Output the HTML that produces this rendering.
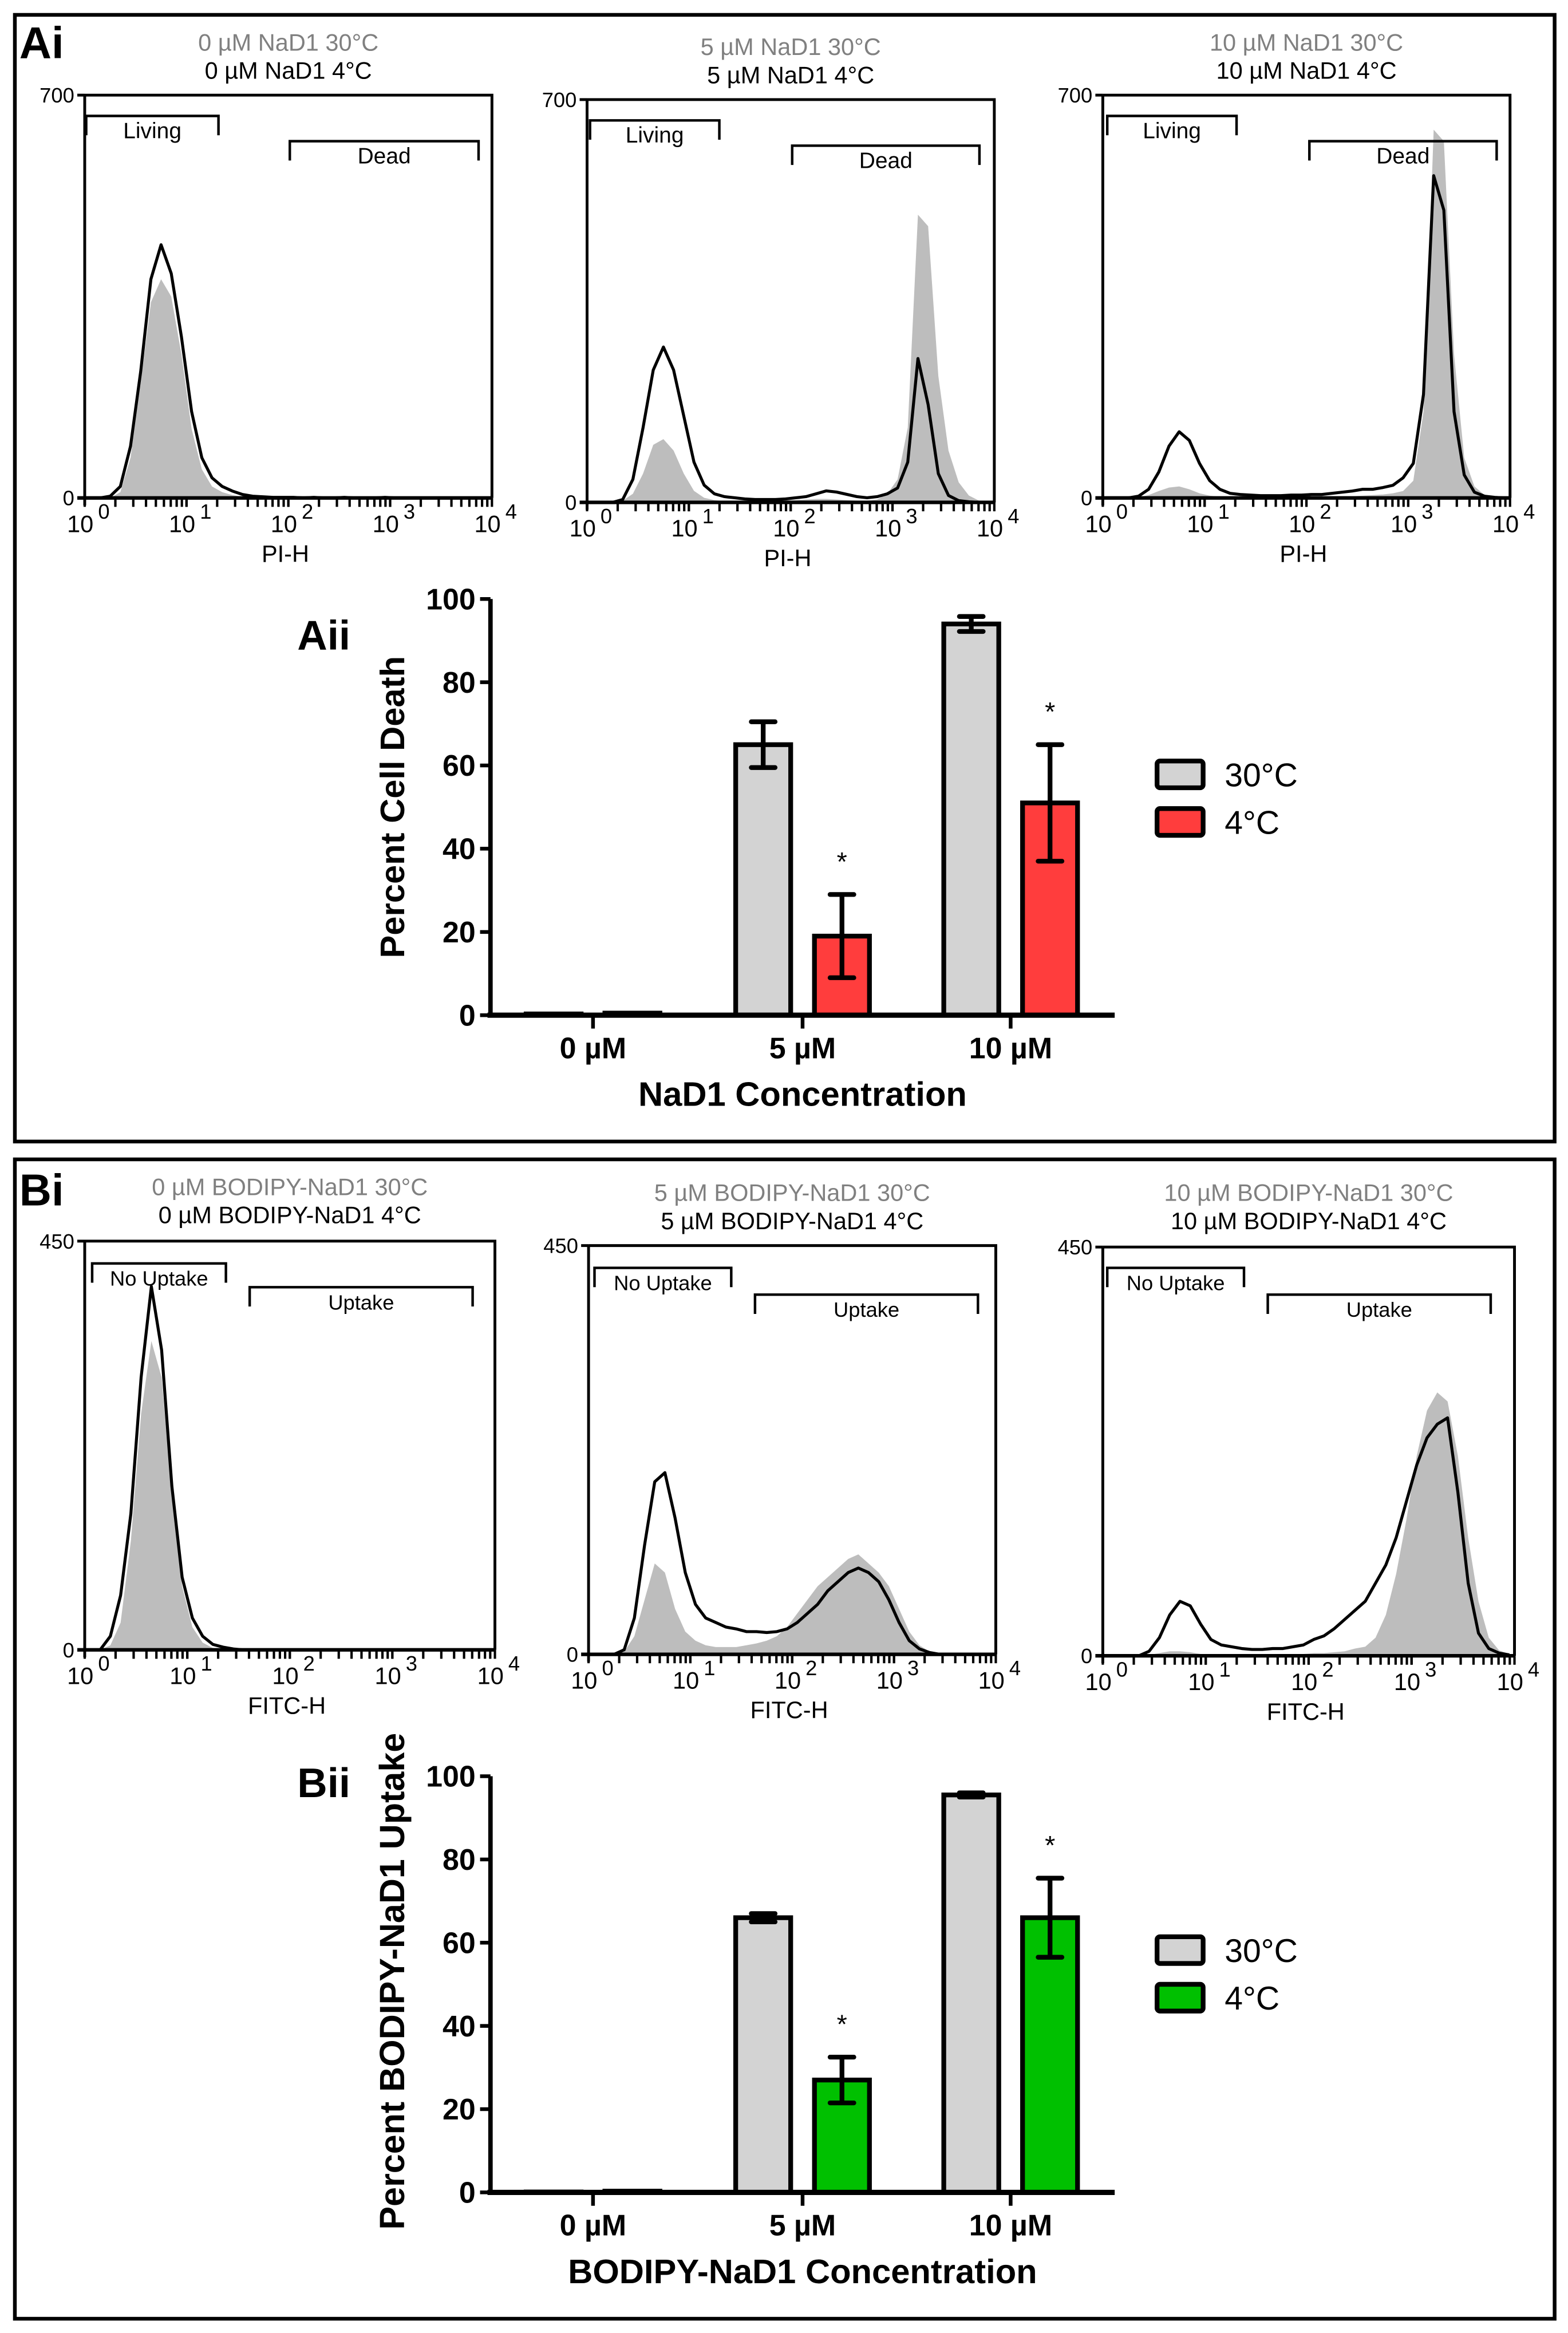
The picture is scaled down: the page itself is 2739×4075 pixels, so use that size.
<!DOCTYPE html>
<html><head><meta charset="utf-8"><style>
html,body{margin:0;padding:0;background:#fff}
svg{display:block}
text{font-family:"Liberation Sans",Arial,sans-serif}
</style></head><body>
<svg id="fig" xmlns="http://www.w3.org/2000/svg" width="2739" height="4075" viewBox="0 0 1055 1569.6">
<rect x="0" y="0" width="1055" height="1570" fill="#fff"/>
<rect x="10" y="10" width="1036" height="758" fill="none" stroke="#000" stroke-width="2.5"/>
<rect x="10" y="780" width="1036" height="780" fill="none" stroke="#000" stroke-width="2.5"/>
<text x="13" y="39" font-size="30" font-weight="bold">Ai</text>
<text x="13" y="811" font-size="30" font-weight="bold">Bi</text>
<text x="200" y="437" font-size="28" font-weight="bold">Aii</text>
<text x="200" y="1209" font-size="28" font-weight="bold">Bii</text>
<g id="root"></g>
</svg>
<script>
// ---------- histogram data (counts per 0.1-decade bin, 10^0..10^4) ----------
const histA1Black=[0,0,3,20,90,220,380,440,390,280,150,70,35,20,12,6,3,2,1,1,1,0,1,0,0,1,0,0,0,1,0,0,0,0,0,0,0,0,0,0];
const histA1Gray=[0,0,0,10,70,200,340,380,350,250,120,50,20,10,5,2,1,0,0,0,0,0,0,0,0,0,0,0,0,0,0,0,0,0,0,0,0,0,0,0];
const histA2Black=[0,0,0,5,40,130,230,270,230,150,70,30,15,10,8,6,5,5,5,6,8,10,15,20,18,14,10,8,10,15,25,70,250,170,50,12,3,1,0,0];
const histA2Gray=[0,0,0,3,15,50,100,110,90,50,20,8,4,2,2,2,2,2,2,3,4,5,6,6,5,4,3,3,5,15,40,130,500,480,220,90,35,12,3,0];
const histA3Black=[0,0,0,3,15,45,90,115,100,60,30,15,8,6,5,4,4,4,5,5,6,6,8,10,12,15,15,18,22,35,60,180,560,500,150,40,10,3,1,0];
const histA3Gray=[0,0,0,1,5,12,18,20,15,8,4,2,1,1,1,1,1,1,1,1,2,2,2,3,3,4,5,6,8,12,30,150,640,620,250,70,20,5,1,0];
const histB1Black=[0,0,15,60,150,300,400,330,180,80,35,15,6,3,1,0,0,0,0,0,0,0,0,0,0,0,0,0,0,0,0,0,0,0,0,0,0,0,0,0];
const histB1Gray=[0,0,5,30,120,260,340,300,170,70,25,8,2,0,0,0,0,0,0,0,0,0,0,0,0,0,0,0,0,0,0,0,0,0,0,0,0,0,0,0];
const histB2Black=[0,0,0,5,40,120,190,200,150,90,55,40,35,30,28,25,25,24,25,28,35,45,55,70,80,90,95,90,80,60,35,15,6,2,0,0,0,0,0,0];
const histB2Gray=[0,0,0,3,20,60,100,90,50,25,15,10,8,8,8,10,12,15,20,30,45,60,75,85,95,105,110,100,90,75,50,25,10,3,0,0,0,0,0,0];
const histB3Black=[0,0,0,0,5,20,45,60,55,35,18,12,10,8,7,7,8,8,10,12,18,22,30,40,50,60,80,100,130,170,210,240,255,262,180,80,25,8,3,1];
const histB3Gray=[0,0,0,0,1,3,5,5,4,2,1,1,1,1,1,1,1,1,2,2,3,3,4,5,8,10,20,45,90,150,220,270,290,280,220,130,60,20,6,2];
// ---------- bar chart data ----------
const categories=["0 µM","5 µM","10 µM"];
const deathWarm=[0.3,65,94];
const deathWarmErr=[0,5.5,1.8];
const deathCold=[0.5,19,51];
const deathColdErr=[0,10,14];
const uptakeWarm=[0.1,66,95.5];
const uptakeWarmErr=[0,1,0.5];
const uptakeCold=[0.3,27,66];
const uptakeColdErr=[0,5.5,9.5];
const yTicks=[0,20,40,60,80,100];

const NS="http://www.w3.org/2000/svg";
const root=document.getElementById('root');
function mk(tag,attrs,parent,txt){const e=document.createElementNS(NS,tag);for(const k in attrs)e.setAttribute(k,attrs[k]);if(txt!==undefined)e.textContent=txt;(parent||root).appendChild(e);return e;}

function histogram(cfg){
  const g=mk('g',{});
  
  
  const {x0,x1,top,base,ymax}=cfg;
  const sx=v=>x0+(v/4)*(x1-x0);
  const sy=c=>base-(c/ymax)*(base-top);
  let d='M'+sx(0)+','+base;
  cfg.gray.forEach((c,i)=>{d+=' L'+sx(i*0.1+0.05)+','+sy(c);});
  d+=' L'+sx(4)+','+base+' Z';
  const ga=mk('path',{d:d,fill:'#bdbdbd',stroke:'none'},g);
  
  
  let l='';
  cfg.black.forEach((c,i)=>{l+=(i?' L':'M')+sx(i*0.1+0.05)+','+sy(c);});
  const bl=mk('path',{d:l,fill:'none',stroke:'#000','stroke-width':2,'stroke-linejoin':'round'},g);
  
  
  mk('path',{d:`M${x0},${top} H${x1} V${base} M${x0},${top} V${base+5}`,fill:'none',stroke:'#000','stroke-width':1.9},g);
  mk('line',{x1:x0-5,y1:top,x2:x0,y2:top,stroke:'#000','stroke-width':1.9},g);
  mk('line',{x1:x0-5,y1:base,x2:x1,y2:base,stroke:'#000','stroke-width':2.4},g);
  for(let dec=0;dec<4;dec++){for(let k=1;k<=10;k++){const v=dec+Math.log10(k);mk('line',{x1:sx(v),y1:base,x2:sx(v),y2:base+6,stroke:'#000','stroke-width':1.6},g);}}
  for(let dec=0;dec<=4;dec++){
    mk('text',{x:sx(dec)-3,y:base+23,'font-size':16,'text-anchor':'middle'},g,'10');
    mk('text',{x:sx(dec)+9,y:base+14,'font-size':14},g,String(dec));
  }
  const yl=mk('text',{x:x0-7,y:top+5,'font-size':14,'text-anchor':'end'},g,String(ymax));
  
  mk('text',{x:x0-7,y:base+5,'font-size':14,'text-anchor':'end'},g,'0');
  const xt=mk('text',{x:(x0+x1)/2-2,y:base+43,'font-size':16,'text-anchor':'middle'},g,cfg.xlabel);
  
  const cx=(x0+x1)/2;
  const t1=mk('text',{x:cx,y:cfg.t1y,'font-size':16,'text-anchor':'middle',fill:'#808080'},g,cfg.t1);
  
  const t2=mk('text',{x:cx,y:cfg.t1y+19,'font-size':16,'text-anchor':'middle'},g,cfg.t2);
  
  cfg.gates.forEach(gt=>{
    const [a,b,y,label]=gt;
    const p=mk('path',{d:`M${a},${y+13} V${y} H${b} V${y+13}`,fill:'none',stroke:'#000','stroke-width':1.7},g);
    
    
    mk('text',{x:(a+b)/2,y:y+15,'font-size':cfg.gfs,'text-anchor':'middle'},g,label);
  });
}
histogram({name:'histogram-a-0um',x0:57,x1:331,top:64,base:335,ymax:700,gray:histA1Gray,black:histA1Black,xlabel:'PI-H',t1:'0 µM NaD1 30°C',t2:'0 µM NaD1 4°C',t1y:34,gfs:15,gates:[[58,147,78,'Living'],[195,322,95,'Dead']]});
histogram({name:'histogram-a-5um',x0:395,x1:669,top:67,base:338,ymax:700,gray:histA2Gray,black:histA2Black,xlabel:'PI-H',t1:'5 µM NaD1 30°C',t2:'5 µM NaD1 4°C',t1y:37,gfs:15,gates:[[397,484,81,'Living'],[533,659,98,'Dead']]});
histogram({name:'histogram-a-10um',x0:742,x1:1016,top:64,base:335,ymax:700,gray:histA3Gray,black:histA3Black,xlabel:'PI-H',t1:'10 µM NaD1 30°C',t2:'10 µM NaD1 4°C',t1y:34,gfs:15,gates:[[745,832,78,'Living'],[881,1007,95,'Dead']]});
histogram({name:'histogram-b-0um',x0:57,x1:333,top:835,base:1110,ymax:450,gray:histB1Gray,black:histB1Black,xlabel:'FITC-H',t1:'0 µM BODIPY-NaD1 30°C',t2:'0 µM BODIPY-NaD1 4°C',t1y:804,gfs:14,gates:[[62,152,850,'No Uptake'],[168,318,866,'Uptake']]});
histogram({name:'histogram-b-5um',x0:396,x1:670,top:838,base:1113,ymax:450,gray:histB2Gray,black:histB2Black,xlabel:'FITC-H',t1:'5 µM BODIPY-NaD1 30°C',t2:'5 µM BODIPY-NaD1 4°C',t1y:808,gfs:14,gates:[[400,492,853,'No Uptake'],[508,658,871,'Uptake']]});
histogram({name:'histogram-b-10um',x0:742,x1:1019,top:839,base:1114,ymax:450,gray:histB3Gray,black:histB3Black,xlabel:'FITC-H',t1:'10 µM BODIPY-NaD1 30°C',t2:'10 µM BODIPY-NaD1 4°C',t1y:808,gfs:14,gates:[[745,837,853,'No Uptake'],[853,1003,871,'Uptake']]});

function barChart(cfg){
  const g=mk('g',{});
  
  
  const ax=330, xEnd=750, y0=cfg.y0, y100=cfg.y0-280;
  const sy=v=>y0-(v/100)*(y0-y100);
  const centers=[399,540,680];
  const bw=37, off=26.5;
  function bar(cx,v,e,fill,nm,star){
    const r=mk('rect',{x:cx-bw/2,y:sy(v),width:bw,height:y0-sy(v),fill:fill,stroke:'#000','stroke-width':3.2},g);
    
    
    if(e>0){
      const eb=mk('path',{d:`M${cx},${sy(v+e)} V${sy(v-e)} M${cx-8},${sy(v+e)} H${cx+8} M${cx-8},${sy(v-e)} H${cx+8}`,stroke:'#000','stroke-width':3.2,fill:'none','stroke-linecap':'round'},g);
      
      
    }
    if(star){const s=mk('text',{x:cx,y:sy(v+e)-16,'font-size':18,'text-anchor':'middle'},g,'*');}
  }
  categories.forEach((c,i)=>{
    bar(centers[i]-off,cfg.warm[i],cfg.warmErr[i],'#d3d3d3','bar-30c-'+i,false);
    bar(centers[i]+off,cfg.cold[i],cfg.coldErr[i],cfg.color,'bar-4c-'+i,i>0);
    mk('line',{x1:centers[i],y1:y0,x2:centers[i],y2:y0+9,stroke:'#000','stroke-width':2.5},g);
    const t=mk('text',{x:centers[i],y:y0+29,'font-size':20,'font-weight':'bold','text-anchor':'middle'},g,c);
    
  });
  mk('line',{x1:ax,y1:y100,x2:ax,y2:y0,stroke:'#000','stroke-width':3},g);
  mk('line',{x1:ax-2,y1:y0,x2:xEnd,y2:y0,stroke:'#000','stroke-width':3.5},g);
  yTicks.forEach(v=>{
    mk('line',{x1:ax-7,y1:sy(v),x2:ax,y2:sy(v),stroke:'#000','stroke-width':2.5},g);
    const t=mk('text',{x:ax-10,y:sy(v)+7,'font-size':20,'font-weight':'bold','text-anchor':'end'},g,String(v));
    
  });
  const yt=mk('text',{x:0,y:0,'font-size':cfg.yfs,'font-weight':'bold','text-anchor':'middle',transform:`translate(272,${cfg.ymid}) rotate(-90)`},g,cfg.ylabel);
  
  const xt=mk('text',{x:540,y:y0+61,'font-size':23,'font-weight':'bold','text-anchor':'middle'},g,cfg.xlabel);
  
  const ly=cfg.legY;
  const l1=mk('rect',{x:778.5,y:ly,width:31,height:18,rx:2,fill:'#d3d3d3',stroke:'#000','stroke-width':3.2},g);
  
  mk('text',{x:824,y:ly+17,'font-size':22},g,'30°C');
  const l2=mk('rect',{x:778.5,y:ly+32,width:31,height:18,rx:2,fill:cfg.color,stroke:'#000','stroke-width':3.2},g);
  
  mk('text',{x:824,y:ly+49,'font-size':22},g,'4°C');
}
barChart({name:'bar-chart-cell-death',y0:683,warm:deathWarm,warmErr:deathWarmErr,cold:deathCold,coldErr:deathColdErr,color:'#ff3d3d',ylabel:'Percent Cell Death',xlabel:'NaD1 Concentration',legY:512,yfs:23,ymid:543});
barChart({name:'bar-chart-uptake',y0:1475,warm:uptakeWarm,warmErr:uptakeWarmErr,cold:uptakeCold,coldErr:uptakeColdErr,color:'#00c000',ylabel:'Percent BODIPY-NaD1 Uptake',xlabel:'BODIPY-NaD1 Concentration',legY:1303,yfs:23.5,ymid:1333});
</script>
</body></html>
